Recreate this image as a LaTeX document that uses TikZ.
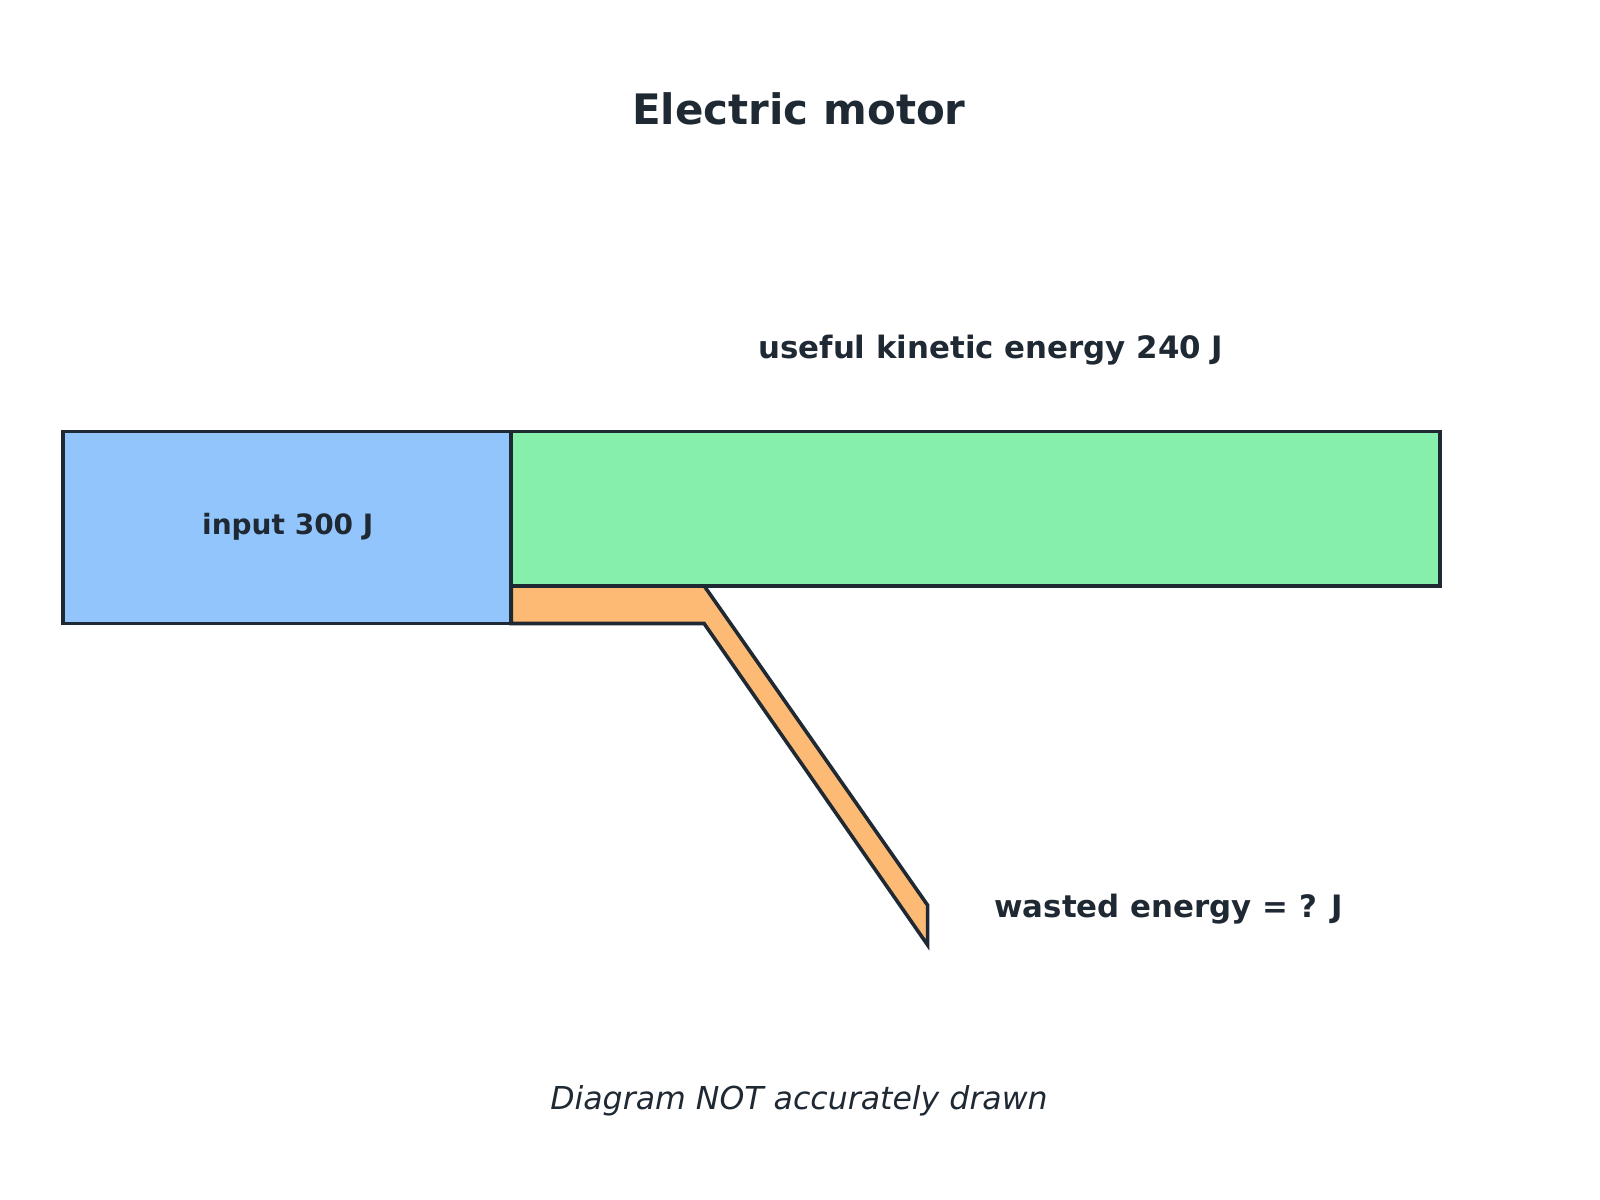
\documentclass[tikz,border=0pt]{standalone}
\usepackage{fontspec}
\setmainfont{DejaVu Sans}
\usetikzlibrary{positioning}
\definecolor{ink}{HTML}{1F2933}
\definecolor{inblue}{HTML}{93C5FD}
\definecolor{usegreen}{HTML}{86EFAC}
\definecolor{wasteorange}{HTML}{FDBA74}
\tikzset{
  band/.style = {draw=ink, line width=1pt, line join=miter},
  label/.style = {text=ink, font=\fontsize{8.6}{10}\selectfont\bfseries}
}
\begin{document}
\begin{tikzpicture}[x=0.01cm, y=-0.01cm]
    \useasboundingbox (0,0) rectangle (1568,1176);
    % Place bands
    \draw [band, fill=wasteorange] (501,574) -- (690,574) -- (909,887) -- (909,926) -- (690,611) -- (501,611) -- cycle;
    \draw [band, fill=usegreen] (501,423) rectangle (1411,574);
    \draw [band, fill=inblue] (62,423) rectangle (501,611);
    % Place labels
    \node [text=ink, font=\fontsize{11.7}{13}\selectfont\bfseries] (title) at (783,107) {Electric motor};
    \node [label, font=\fontsize{7.8}{9}\selectfont\bfseries] (input) at (282,516) {input 300 J};
    \node [label] (useful) at (971,343) {useful kinetic energy 240 J};
    \node [label, anchor=west] (wasted) at (962,891) {wasted energy = ? J};
    \node [text=ink, font=\fontsize{8.8}{10}\selectfont\itshape] (note) at (783,1079) {Diagram NOT accurately drawn};
\end{tikzpicture}
\end{document}
